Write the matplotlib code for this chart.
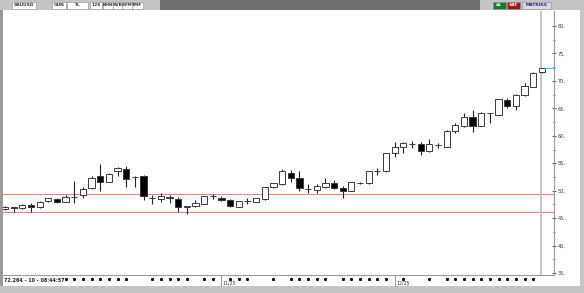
import matplotlib
matplotlib.use("Agg")
import matplotlib.pyplot as plt
from matplotlib.patches import Rectangle
import numpy as np

# daily candles (XAUUSD in TL)
opens = [46.6, 46.95, 46.8, 47.4, 47.0, 48.1, 48.55, 47.95, 48.85, 49.2,
         50.4, 52.6, 51.65, 53.6, 53.9, 52.5, 52.7, 48.6, 48.4, 48.9,
         48.5, 47.1, 47.2, 47.6, 48.95, 48.7, 48.3, 47.1, 48.15, 48.0,
         48.4, 50.6, 51.2, 53.3, 52.3, 50.3, 50.1, 50.7, 51.35, 50.55,
         50.0, 51.4, 51.35, 53.5, 53.6, 56.8, 58.0, 58.45, 58.5, 57.3,
         58.3, 58.0, 60.9, 61.85, 63.5, 61.8, 64.1, 63.8, 66.5, 65.4,
         67.4, 68.95, 71.6]
highs = [47.2, 47.1, 47.5, 47.7, 48.1, 48.7, 48.6, 49.3, 51.8, 50.7,
         52.7, 54.8, 53.2, 54.3, 54.5, 52.7, 52.8, 49.2, 49.5, 49.2,
         48.9, 47.2, 48.3, 49.0, 49.4, 49.0, 48.4, 48.2, 48.6, 48.6,
         50.7, 51.4, 53.9, 53.8, 53.5, 51.2, 51.2, 52.3, 51.9, 50.9,
         51.6, 51.6, 53.6, 54.1, 56.9, 58.9, 58.8, 59.05, 58.9, 59.35,
         58.75, 61.0, 62.3, 64.2, 64.7, 64.3, 64.2, 66.7, 66.95, 67.7,
         69.7, 71.6, 72.4]
lows = [46.4, 46.1, 46.7, 46.2, 46.9, 48.0, 47.8, 47.9, 47.8, 48.6,
        50.3, 50.0, 51.5, 52.6, 50.7, 50.7, 48.3, 47.5, 48.0, 47.7,
        46.2, 45.8, 47.1, 47.5, 48.4, 48.2, 47.1, 47.0, 47.6, 47.9,
        48.3, 50.5, 51.0, 51.65, 49.95, 49.5, 49.6, 50.55, 50.3, 48.6,
        49.9, 51.2, 51.2, 52.9, 53.4, 56.2, 56.8, 57.7, 56.5, 57.1,
        57.7, 57.9, 60.45, 61.65, 60.75, 61.7, 62.3, 63.7, 65.0, 64.7,
        67.25, 68.8, 71.5]
closes = [47.1, 46.8, 47.4, 47.1, 48.0, 48.6, 47.95, 48.9, 48.9, 50.25,
          52.4, 51.65, 53.0, 54.2, 52.1, 52.55, 49.0, 48.65, 49.0, 48.6,
          47.1, 47.15, 47.8, 49.0, 49.0, 48.3, 47.2, 48.2, 48.2, 48.6,
          50.6, 51.35, 53.5, 52.3, 50.55, 50.35, 50.85, 51.45, 50.55, 49.95,
          51.5, 51.45, 53.5, 53.55, 56.8, 58.0, 58.6, 58.5, 57.3, 58.5,
          58.35, 60.9, 62.0, 63.5, 61.8, 64.2, 64.15, 66.65, 65.4, 67.4,
          69.1, 71.5, 72.26]

support_levels = [49.4, 46.1]
last_price = 72.264
status_text = "72.264 - 10 - 08:44:57"
date_ticks = [25, 45]
date_labels = ["11/25", "12/25"]
day_dots = [7, 8, 9, 10, 11, 12, 13, 14, 17, 18, 19, 20, 21, 23, 24, 26, 27,
            28, 31, 33, 34, 35, 36, 37, 39, 40, 41, 42, 43, 44, 46, 49, 51,
            52, 53, 54, 55, 56, 57, 58, 59, 60, 61]

W, H = 584, 293


def fx(x):
    return x / W


def fy(y):
    return 1 - y / H


fig = plt.figure(figsize=(W / 100, H / 100), dpi=100, facecolor="white")

# grey window frame and toolbar
frame = "#c4c4c4"
for x0, y0, x1, y1, c in [(0, 0, 3, H, "#9a9a9a"), (580, 0, W, H, frame),
                          (0, 286, W, H, frame), (0, 0, W, 10, frame),
                          (160, 0, 480, 10, "#707070")]:
    fig.add_artist(Rectangle((fx(x0), fy(y1)), fx(x1 - x0), (y1 - y0) / H,
                             transform=fig.transFigure, color=c, lw=0, zorder=0))

tool_boxes = [(12, 36, "XAUUSD", "white", "#333"), (52, 66, "GUN", "white", "#333"),
              (67, 88, "TL", "white", "#333"), (90, 102, "12S", "white", "#333"),
              (103, 113, "KHN", "white", "#333"), (113, 122, "SVB", "white", "#333"),
              (122, 132, "SYM", "white", "#333"), (132, 143, "TMF", "white", "#333"),
              (493, 506, "AL", "#1d7a2e", "white"), (507, 520, "SAT", "#a01818", "white"),
              (522, 551, "MATRIKS", "#d8d8e4", "#2a2a80")]
for x0, x1, label, bg, tc in tool_boxes:
    fig.add_artist(Rectangle((fx(x0), fy(9)), fx(x1 - x0), 7 / H,
                             transform=fig.transFigure, facecolor=bg,
                             edgecolor="#8a8a8a", lw=0.4, zorder=1))
    fig.text(fx((x0 + x1) / 2), fy(5.5), label, fontsize=3.2, color=tc,
             ha="center", va="center", fontweight="bold")

# main price panel
ax = fig.add_axes([fx(3), fy(275), fx(551), 264 / H], facecolor="white")
ax.set_xlim(-0.23, 63.4)
ax.set_ylim(34.64, 82.73)

x = np.arange(len(opens))
for i in x:
    o, h, l, c = opens[i], highs[i], lows[i], closes[i]
    ax.vlines(i, l, h, color="#222222", lw=0.8, zorder=2)
    lo, hi = min(o, c), max(o, c)
    face = "white" if c >= o else "black"
    ax.add_patch(Rectangle((i - 0.36, lo), 0.72, max(hi - lo, 0.06),
                           facecolor=face, edgecolor="#3a3a3a", lw=0.7, zorder=3))

for lvl in support_levels:
    ax.axhline(lvl, color="#f08080", lw=0.8, zorder=1)

ax.plot([62.36, 63.4], [last_price, last_price], color="#40c8d0", lw=0.8,
        zorder=4, clip_on=False)

ax.axvline(61.95, color="#c0c0c0", lw=1.3, zorder=1)

for side in ["left", "top"]:
    ax.spines[side].set_visible(False)
ax.spines["right"].set_color("#9a9a9a")
ax.spines["bottom"].set_color("#9a9a9a")
ax.spines["right"].set_linewidth(0.8)
ax.spines["bottom"].set_linewidth(0.8)

ax.yaxis.tick_right()
ax.set_yticks(np.arange(35, 81, 5))
ax.set_yticklabels([f"{v}," for v in range(35, 81, 5)])
ax.set_yticks(np.arange(37.5, 80, 5), minor=True)
ax.tick_params(axis="y", which="major", direction="inout", length=3, width=0.6,
               color="#333333", labelsize=3.5, pad=1, labelcolor="#333333")
ax.tick_params(axis="y", which="minor", direction="inout", length=1.5, width=0.6,
               color="#333333")
ax.set_xticks([])

# date strip below the panel
for d in day_dots:
    ax.plot(d, 34.64 - 0.75, marker="s", ms=1.1, color="black", clip_on=False,
            zorder=5)
for d, lab in zip(date_ticks, date_labels):
    ax.plot([d, d], [34.64, 32.6], color="#888888", lw=0.6, clip_on=False)
    ax.text(d + 0.15, 33.1, lab, fontsize=3.3, color="#333333", va="center",
            ha="left")
fig.text(fx(4), fy(281), status_text, fontsize=3.5, color="#222222",
         fontweight="bold", va="center", ha="left")

fig.savefig("out.png", dpi=100, facecolor=fig.get_facecolor())
